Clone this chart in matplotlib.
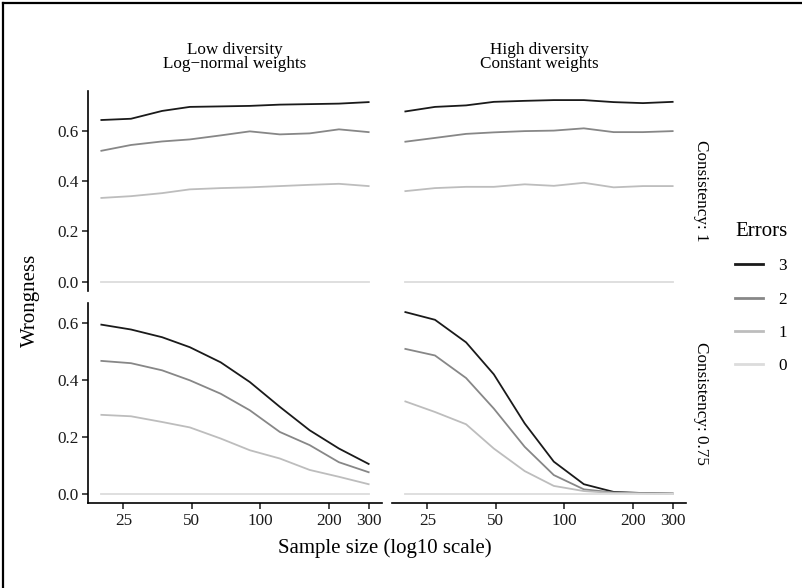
import numpy as np
import matplotlib
matplotlib.use("Agg")
import matplotlib.pyplot as plt
from matplotlib.lines import Line2D

plt.rcParams['font.family'] = ['Liberation Serif', 'DejaVu Serif']

################################################
## data
sample_size = [20, 27, 37, 49, 67, 90, 122, 165, 222, 300]
errors = [3, 2, 1, 0]
col_labels = ["Low diversity\nLog\u2212normal weights", "High diversity\nConstant weights"]
row_labels = ["Consistency: 1", "Consistency: 0.75"]

## consistency 1, low diversity
c1_low_e3 = [0.642, 0.647, 0.678, 0.694, 0.696, 0.698, 0.703, 0.705, 0.707, 0.713]
c1_low_e2 = [0.520, 0.543, 0.557, 0.565, 0.581, 0.597, 0.585, 0.589, 0.605, 0.594]
c1_low_e1 = [0.333, 0.340, 0.352, 0.367, 0.372, 0.375, 0.380, 0.385, 0.389, 0.380]
## consistency 1, high diversity
c1_high_e3 = [0.676, 0.694, 0.700, 0.714, 0.718, 0.721, 0.721, 0.713, 0.709, 0.714]
c1_high_e2 = [0.556, 0.571, 0.587, 0.593, 0.598, 0.600, 0.609, 0.594, 0.594, 0.598]
c1_high_e1 = [0.360, 0.372, 0.377, 0.377, 0.387, 0.381, 0.393, 0.375, 0.380, 0.380]
## consistency 0.75, low diversity
c75_low_e3 = [0.593, 0.576, 0.549, 0.514, 0.461, 0.392, 0.305, 0.223, 0.159, 0.105]
c75_low_e2 = [0.466, 0.458, 0.433, 0.398, 0.351, 0.293, 0.217, 0.171, 0.111, 0.076]
c75_low_e1 = [0.277, 0.272, 0.252, 0.233, 0.194, 0.153, 0.124, 0.084, 0.060, 0.034]
## consistency 0.75, high diversity
c75_high_e3 = [0.637, 0.610, 0.531, 0.419, 0.247, 0.113, 0.034, 0.007, 0.003, 0.001]
c75_high_e2 = [0.508, 0.485, 0.406, 0.299, 0.165, 0.066, 0.016, 0.005, 0.002, 0.001]
c75_high_e1 = [0.324, 0.287, 0.244, 0.159, 0.080, 0.028, 0.010, 0.003, 0.002, 0.001]
zeros = [0.0] * 10

panels = [
    [[c1_low_e3, c1_low_e2, c1_low_e1, zeros], [c1_high_e3, c1_high_e2, c1_high_e1, zeros]],
    [[c75_low_e3, c75_low_e2, c75_low_e1, zeros], [c75_high_e3, c75_high_e2, c75_high_e1, zeros]],
]
colors = ["#1a1a1a", "#878787", "#bdbdbd", "#dcdcdc"]
x_ticks = [25, 50, 100, 200, 300]
y_ticks = [0.0, 0.2, 0.4, 0.6]

################################################
W, H = 802, 588
fig = plt.figure(figsize=(W / 100, H / 100), dpi=100)

def px_axes(x0, y0, x1, y1):
    return fig.add_axes([x0 / W, 1 - y1 / H, (x1 - x0) / W, (y1 - y0) / H])

col_px = [(88, 382), (392, 686)]
row_px = [(91, 291), (303, 503)]

lx = np.log10(sample_size)
xpad = 0.05 * (lx.max() - lx.min())

for r in range(2):
    rmax = max(max(s) for c in range(2) for s in panels[r][c])
    ypad = 0.05 * rmax
    for c in range(2):
        ax = px_axes(col_px[c][0], row_px[r][0], col_px[c][1], row_px[r][1])
        for series, col in zip(panels[r][c], colors):
            ax.plot(sample_size, series, color=col, linewidth=1.3)
        ax.set_xscale("log")
        ax.set_xlim(10 ** (lx.min() - xpad), 10 ** (lx.max() + xpad))
        ax.set_ylim(-ypad, rmax + ypad)
        ax.set_xticks(x_ticks)
        ax.set_xticklabels([str(t) for t in x_ticks])
        ax.xaxis.set_minor_locator(plt.NullLocator())
        ax.set_yticks(y_ticks)
        ax.set_yticklabels(["%.1f" % t for t in y_ticks])
        for s in ["top", "right"]:
            ax.spines[s].set_visible(False)
        ax.spines["left"].set_visible(c == 0)
        ax.spines["bottom"].set_visible(r == 1)
        for s in ["left", "bottom"]:
            ax.spines[s].set_linewidth(1.2)
        ax.tick_params(axis="both", direction="out", length=4, width=1.1,
                       labelsize=12.3, colors="#1a1a1a", pad=3)
        ax.tick_params(axis="y", left=(c == 0), labelleft=(c == 0))
        ax.tick_params(axis="x", bottom=(r == 1), labelbottom=(r == 1))
        if r == 0:
            ax.set_title(col_labels[c], fontsize=12.3, pad=16.5, linespacing=0.88)
        if c == 1:
            ax.text(1.025, 0.5, row_labels[r], transform=ax.transAxes, rotation=-90,
                    ha="left", va="center", fontsize=12.3)

fig.text(385 / W, 1 - 548 / H, "Sample size (log10 scale)", ha="center", va="center", fontsize=15)
fig.text(30 / W, 1 - 300 / H, "Wrongness", ha="center", va="center", rotation=90, fontsize=15)

handles = [Line2D([], [], color=col, linewidth=2) for col in colors]
leg = fig.legend(handles, [str(e) for e in errors], title="Errors", loc="upper left",
                 bbox_to_anchor=(720 / W, 1 - 207 / H), frameon=False, fontsize=12.3,
                 title_fontsize=15, handlelength=1.6, labelspacing=1.0, handletextpad=0.9)
leg._legend_box.align = "left"

## frame lines at top and left of the figure
fig.add_artist(Line2D([3 / W, 3 / W], [0, 1 - 3 / H], transform=fig.transFigure, color="black", linewidth=1.6))
fig.add_artist(Line2D([3 / W, 1], [1 - 3 / H, 1 - 3 / H], transform=fig.transFigure, color="black", linewidth=1.6))

fig.savefig("out.png", dpi=100)
